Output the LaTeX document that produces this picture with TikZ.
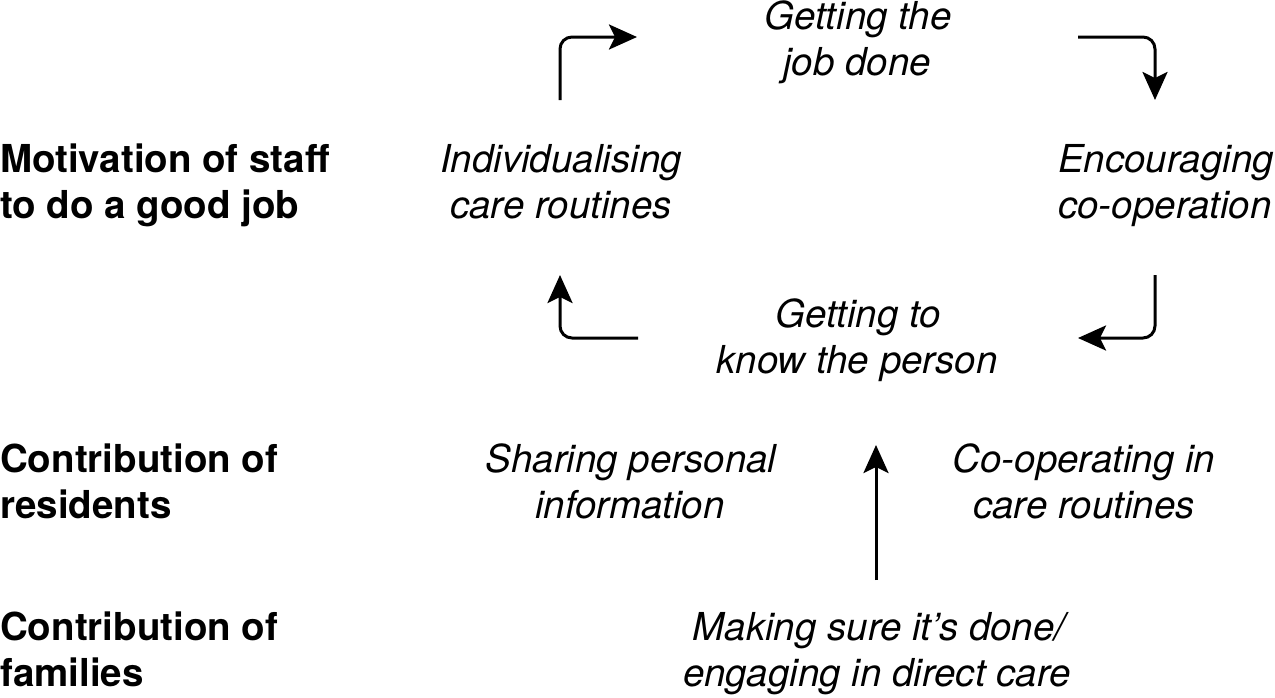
\documentclass[tikz,border=0pt]{standalone}
\usepackage{fontspec}
\setmainfont{TeX Gyre Heros}
\usetikzlibrary{arrows.meta}
\begin{document}
\begin{tikzpicture}[x=1pt,y=-1pt,
  lab/.style={inner sep=0pt, anchor=base, font=\fontsize{38.5}{46}\selectfont\itshape},
  head/.style={inner sep=0pt, anchor=base west, font=\fontsize{38.5}{46}\selectfont\bfseries},
  flow/.style={line width=3pt, rounded corners=12pt, -{Stealth[length=28pt,width=25pt,inset=6pt]}}]
\useasboundingbox (0,0) rectangle (1275,697);
% left headings
\node[head] (motA) at (0,172) {Motivation of staff};
\node[head] (motB) at (0,218) {to do a good job};
\node[head] (resA) at (0,472) {Contribution of};
\node[head] (resB) at (0,518) {residents};
\node[head] (famA) at (0,640) {Contribution of};
\node[head] (famB) at (0,686) {families};
% cycle labels
\node[lab] (jobA) at (858,29) {Getting the};
\node[lab] (jobB) at (857,75) {job done};
\node[lab] (indA) at (561,172) {Individualising};
\node[lab] (indB) at (561,218) {care routines};
\node[lab] (encA) at (1166,172) {Encouraging};
\node[lab] (encB) at (1165,218) {co-operation};
\node[lab] (knowA) at (858,327) {Getting to};
\node[lab] (knowB) at (857,373) {know the person};
\node[lab] (shA) at (631,472) {Sharing personal};
\node[lab] (shB) at (630,518) {information};
\node[lab] (coA) at (1084,472) {Co-operating in};
\node[lab] (coB) at (1084,518) {care routines};
\node[lab] (makA) at (879,640) {Making sure it’s done/};
\node[lab] (makB) at (877,686) {engaging in direct care};
% arrow coordinates
\coordinate (a1s) at (560,100);
\coordinate (a1e) at (637,37);
\coordinate (a2s) at (1078,37);
\coordinate (a2e) at (1155,100);
\coordinate (a3s) at (1155,275);
\coordinate (a3e) at (1078,338);
\coordinate (a4s) at (638,338);
\coordinate (a4e) at (560,275);
\coordinate (a5s) at (876,580);
\coordinate (a5e) at (876,445);
\draw[flow] (a1s) |- (a1e);
\draw[flow] (a2s) -| (a2e);
\draw[flow] (a3s) |- (a3e);
\draw[flow] (a4s) -| (a4e);
\draw[flow] (a5s) -- (a5e);
\end{tikzpicture}
\end{document}
